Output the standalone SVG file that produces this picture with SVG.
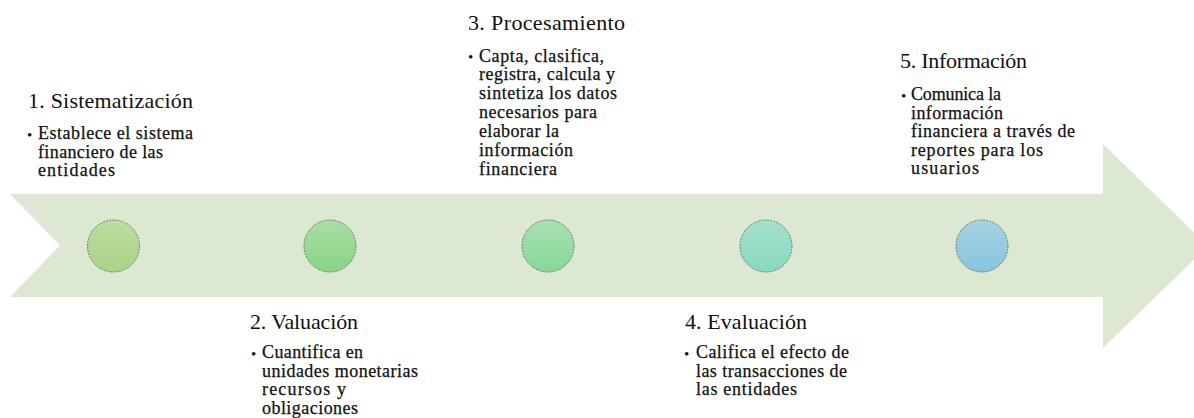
<svg xmlns="http://www.w3.org/2000/svg" width="1194" height="418" viewBox="0 0 1194 418">
  <style>
    .title { font-family: "Liberation Serif", "Times New Roman", serif; font-size: 22px; fill: #111; }
    .body { font-family: "Liberation Serif", "Times New Roman", serif; font-size: 18px; fill: #111; stroke: #111; stroke-width: 0.25; }
    .bullet { font-family: "Liberation Serif", "Times New Roman", serif; font-size: 15px; fill: #111; }
    .dot { stroke: #6f856f; stroke-width: 1; stroke-dasharray: 2 1; }
  </style>
  <defs>
    <linearGradient id="g1" x1="0" y1="0" x2="0" y2="1">
      <stop offset="0" stop-color="#BEDC9F"/>
      <stop offset="1" stop-color="#A7D388"/>
    </linearGradient>
    <linearGradient id="g2" x1="0" y1="0" x2="0" y2="1">
      <stop offset="0" stop-color="#AADDA6"/>
      <stop offset="1" stop-color="#88D487"/>
    </linearGradient>
    <linearGradient id="g3" x1="0" y1="0" x2="0" y2="1">
      <stop offset="0" stop-color="#A9E0B3"/>
      <stop offset="1" stop-color="#86D898"/>
    </linearGradient>
    <linearGradient id="g4" x1="0" y1="0" x2="0" y2="1">
      <stop offset="0" stop-color="#A5E1CE"/>
      <stop offset="1" stop-color="#87D9C0"/>
    </linearGradient>
    <linearGradient id="g5" x1="0" y1="0" x2="0" y2="1">
      <stop offset="0" stop-color="#A6D2E2"/>
      <stop offset="1" stop-color="#87C5DE"/>
    </linearGradient>
  </defs>
  <rect width="1194" height="418" fill="#FFFFFF"/>

  <g id="arrow">
    <polygon points="10,194 1103,194 1103,144 1208,246 1103,348 1103,297 10,297 60,245.5" fill="#DCE8D1"/>
  </g>

  <g id="connectors"></g>

  <g id="node1">
    <circle class="dot" cx="113.5" cy="246" r="26" fill="url(#g1)"/>
    <text class="title" x="28" y="108" textLength="165" lengthAdjust="spacing">1. Sistematización</text>
    <text class="bullet" x="27" y="139.5">•</text>
    <text class="body" x="38" y="139" textLength="155" lengthAdjust="spacing">Establece el sistema</text>
    <text class="body" x="38" y="157.5" textLength="125" lengthAdjust="spacing">financiero de las</text>
    <text class="body" x="38" y="176" textLength="77" lengthAdjust="spacing">entidades</text>
  </g>

  <g id="node2">
    <circle class="dot" cx="330" cy="246" r="26" fill="url(#g2)"/>
    <text class="title" x="250" y="329" textLength="108" lengthAdjust="spacing">2. Valuación</text>
    <text class="bullet" x="251" y="358.5">•</text>
    <text class="body" x="262" y="358" textLength="101" lengthAdjust="spacing">Cuantifica en</text>
    <text class="body" x="262" y="376.5" textLength="156" lengthAdjust="spacing">unidades monetarias</text>
    <text class="body" x="262" y="395" textLength="84" lengthAdjust="spacing">recursos y</text>
    <text class="body" x="262" y="413.5" textLength="96" lengthAdjust="spacing">obligaciones</text>
  </g>

  <g id="node3">
    <circle class="dot" cx="548" cy="246" r="26" fill="url(#g3)"/>
    <text class="title" x="468" y="30" textLength="157" lengthAdjust="spacing">3. Procesamiento</text>
    <text class="bullet" x="468" y="62">•</text>
    <text class="body" x="479" y="61.5" textLength="125" lengthAdjust="spacing">Capta, clasifica,</text>
    <text class="body" x="479" y="80.4" textLength="136" lengthAdjust="spacing">registra, calcula y</text>
    <text class="body" x="479" y="99.3" textLength="138" lengthAdjust="spacing">sintetiza los datos</text>
    <text class="body" x="479" y="118.2" textLength="118" lengthAdjust="spacing">necesarios para</text>
    <text class="body" x="479" y="137.1" textLength="80" lengthAdjust="spacing">elaborar la</text>
    <text class="body" x="479" y="156" textLength="94" lengthAdjust="spacing">información</text>
    <text class="body" x="479" y="174.9" textLength="78" lengthAdjust="spacing">financiera</text>
  </g>

  <g id="node4">
    <circle class="dot" cx="766" cy="246" r="26" fill="url(#g4)"/>
    <text class="title" x="685" y="329" textLength="122" lengthAdjust="spacing">4. Evaluación</text>
    <text class="bullet" x="684" y="358.5">•</text>
    <text class="body" x="696" y="358" textLength="153" lengthAdjust="spacing">Califica  el efecto de</text>
    <text class="body" x="696" y="376.5" textLength="151" lengthAdjust="spacing">las transacciones de</text>
    <text class="body" x="696" y="395" textLength="101" lengthAdjust="spacing">las entidades</text>
  </g>

  <g id="node5">
    <circle class="dot" cx="982" cy="246" r="26" fill="url(#g5)"/>
    <text class="title" x="900" y="68" textLength="127" lengthAdjust="spacing">5. Información</text>
    <text class="bullet" x="901" y="100.5">•</text>
    <text class="body" x="911" y="100" textLength="90" lengthAdjust="spacing">Comunica la</text>
    <text class="body" x="911" y="118.5" textLength="92" lengthAdjust="spacing">información</text>
    <text class="body" x="911" y="137" textLength="164" lengthAdjust="spacing">financiera a través de</text>
    <text class="body" x="911" y="155.5" textLength="132" lengthAdjust="spacing">reportes para los</text>
    <text class="body" x="911" y="174" textLength="68" lengthAdjust="spacing">usuarios</text>
  </g>
</svg>
